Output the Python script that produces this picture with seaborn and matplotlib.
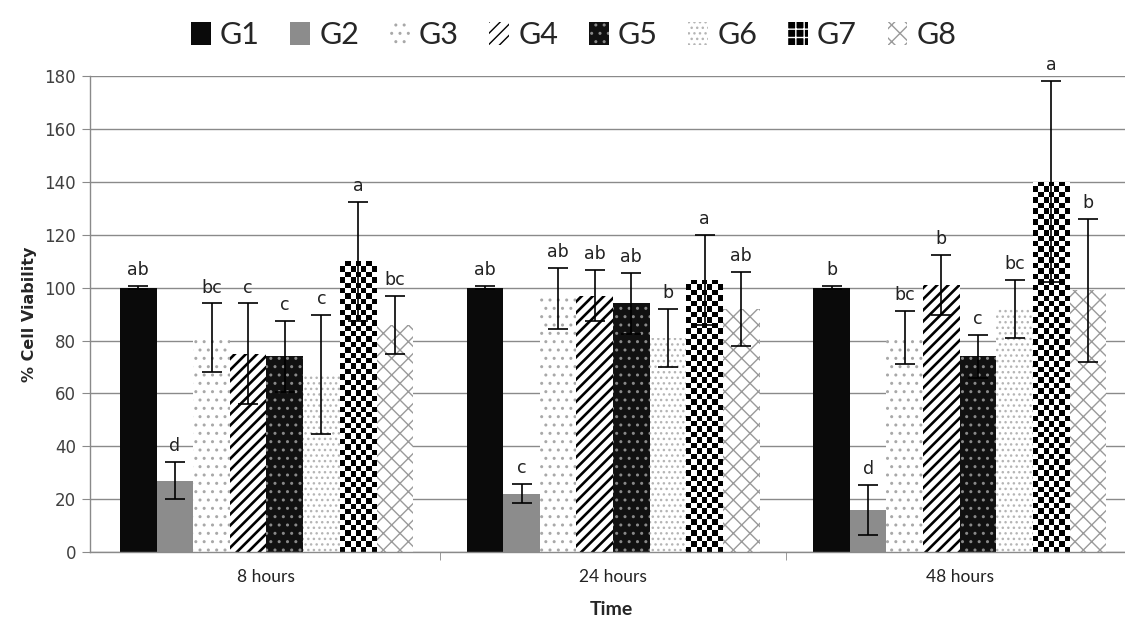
import numpy as np
import pandas as pd
import seaborn as sns
import matplotlib.pyplot as plt
from matplotlib.patches import Patch

times = ['8 hours', '24 hours', '48 hours']
groups = ['G1', 'G2', 'G3', 'G4', 'G5', 'G6', 'G7', 'G8']

# % cell viability
mean_8h = [100, 27, 81, 75, 74, 67, 110, 86]
mean_24h = [100, 22, 96, 97, 94, 81, 103, 92]
mean_48h = [100, 16, 81, 101, 74, 92, 140, 99]

sd_8h = [0.5, 7, 13, 19, 13.5, 22.5, 22.5, 11]
sd_24h = [0.5, 3.6, 11.5, 9.5, 11.7, 11, 17, 14]
sd_48h = [0.5, 9.5, 10, 11.5, 8, 11, 38, 27]

letters_8h = ['ab', 'd', 'bc', 'c', 'c', 'c', 'a', 'bc']
letters_24h = ['ab', 'c', 'ab', 'ab', 'ab', 'b', 'a', 'ab']
letters_48h = ['b', 'd', 'bc', 'b', 'c', 'bc', 'a', 'b']

means = [mean_8h, mean_24h, mean_48h]
sds = [sd_8h, sd_24h, sd_48h]
letters = [letters_8h, letters_24h, letters_48h]

rows = []
for t, m, s, l in zip(times, means, sds, letters):
    for g, v, e, lab in zip(groups, m, s, l):
        rows.append({'Time': t, 'Group': g, 'Viability': v, 'SD': e, 'Letter': lab})
df = pd.DataFrame(rows)

# face, hatch colour, hatch, hatch linewidth
styles = {
    'G1': ('#0a0a0a', '#0a0a0a', None, 1.0),
    'G2': ('#8c8c8c', '#8c8c8c', None, 1.0),
    'G3': ('white', '#a8a8a8', '..', 1.0),
    'G4': ('white', 'black', '///', 1.9),
    'G5': ('#111111', '#8a8a8a', '..', 1.0),
    'G6': ('white', '#b5b5b5', '...', 1.0),
    'G7': ('black', 'white', '++', 2.5),
    'G8': ('white', '#9a9a9a', 'xx', 1.0),
}

sns.set_style('white')
plt.rcParams['font.family'] = ['Lato', 'DejaVu Sans']

fig = plt.figure(figsize=(11.25, 6.26), dpi=100)
# the right end of the plot area runs slightly past the image edge
ax = fig.add_axes([0.08, 0.118, 0.9271, 0.7606])

sns.barplot(data=df, x='Time', y='Viability', hue='Group', order=times,
            hue_order=groups, errorbar=None, width=0.845, gap=0,
            legend=False, ax=ax, zorder=2)


def style_patch(p, g):
    face, hc, hatch, hlw = styles[g]
    p.set_facecolor(face)
    p.set_edgecolor(hc)
    p.set_linewidth(0)
    if hatch:
        p.set_hatch(hatch)
        if hasattr(p, 'set_hatch_linewidth'):
            p.set_hatch_linewidth(hlw)


def checker(p):
    # real checkerboard fill for G7, clipped to the bar
    x0, w, h = p.get_x(), p.get_width(), p.get_height()
    ncol = 7
    nrow = max(1, int(round(h / 2.05)))
    ii, jj = np.indices((nrow, ncol))
    img = (ii + jj) % 2
    im = ax.imshow(img, cmap='gray', vmin=0, vmax=1, origin='lower',
                   extent=(x0, x0 + w, 0, h), aspect='auto',
                   interpolation='nearest', zorder=2.2)
    im.set_clip_path(p)


bar_conts = list(ax.containers)
for gi, cont in enumerate(bar_conts):
    g = groups[gi]
    for ti, bar in enumerate(cont):
        style_patch(bar, g)
        if g == 'G7':
            checker(bar)
        x = bar.get_x() + bar.get_width() / 2
        m = means[ti][gi]
        s = sds[ti][gi]
        ax.errorbar(x, m, yerr=s, fmt='none', ecolor='black', elinewidth=1.2,
                    capsize=7, capthick=1.2, zorder=4)
        ax.annotate(letters[ti][gi], (x, m + s), xytext=(0, 5),
                    textcoords='offset points', ha='center', va='bottom',
                    fontsize=12.5, color='#222222', family='DejaVu Sans')

ax.set_xlim(-0.509, 2.5)
ax.set_ylim(0, 180)
ax.set_yticks(range(0, 181, 20))
ax.yaxis.grid(True, color='#8a8a8a', linewidth=1, zorder=0)
ax.set_axisbelow(True)
for side in ['top', 'right']:
    ax.spines[side].set_visible(False)
for side in ['left', 'bottom']:
    ax.spines[side].set_color('#8a8a8a')
    ax.spines[side].set_linewidth(1)
ax.tick_params(axis='y', length=6, color='#8a8a8a', labelsize=12,
               labelcolor='#404040', left=True, pad=4)
for lab in ax.get_yticklabels():
    lab.set_family('DejaVu Sans')
ax.tick_params(axis='x', which='major', length=0, labelsize=12.5,
               labelcolor='#222222', pad=12)
ax.set_xticks([0.5, 1.5], minor=True)
ax.tick_params(axis='x', which='minor', length=6, color='#8a8a8a', bottom=True)

ax.set_xlabel('Time', fontsize=14, fontweight='bold', labelpad=12)
ax.set_ylabel('% Cell Viability', fontsize=11.5, fontweight='bold',
              labelpad=5, family='DejaVu Sans')

handles = []
for g in groups:
    face, hc, hatch, hlw = styles[g]
    h = Patch(facecolor=face, edgecolor=hc, hatch=hatch, linewidth=0)
    handles.append(h)
fig.legend(handles, groups, loc='upper center', bbox_to_anchor=(0.51, 1.01),
           ncol=8, frameon=False, fontsize=22, handlelength=0.65,
           handleheight=0.75, handletextpad=0.3, columnspacing=1.0)

fig.savefig('out.png', dpi=100)
